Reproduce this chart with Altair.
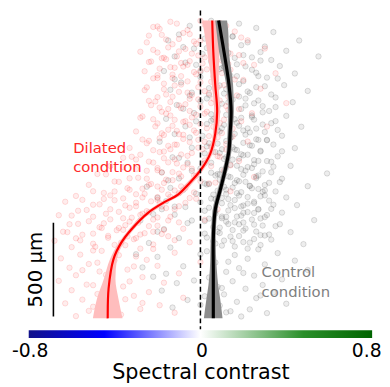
import altair as alt
import pandas as pd

# ---------------- data ----------------
# scatter points: (spectral contrast, depth in µm)
red_points = [
    (-0.14,1640),(0.02,1625),(-0.22,1612),(0.09,1604),(-0.06,1596),(0.16,1588),(-0.18,1570),(0.05,1562),
    (-0.1,1548),(0.22,1541),(-0.25,1530),(-0.02,1522),(0.12,1515),(-0.15,1503),(0.3,1497),(0.07,1488),
    (-0.2,1476),(-0.04,1470),(0.18,1462),(-0.11,1455),
    (-0.16,1440),(0.1,1433),(-0.24,1425),(0.01,1418),(0.25,1410),(-0.08,1401),(-0.19,1390),(0.14,1384),
    (-0.03,1372),(0.35,1365),(-0.13,1358),(0.06,1347),(-0.22,1338),(0.2,1330),(-0.06,1322),(-0.17,1310),
    (0.11,1302),(-0.01,1291),(0.28,1283),(-0.26,1275),(-0.1,1266),(0.04,1258),(0.17,1247),(-0.2,1238),
    (-0.05,1229),(0.09,1220),(-0.14,1212),(0.4,1206),
    (-0.23,1195),(0.0,1188),(-0.09,1179),(0.13,1171),(-0.18,1160),(0.24,1152),(-0.02,1144),(-0.27,1135),
    (0.07,1126),(-0.12,1117),(0.19,1109),(-0.2,1098),(-0.05,1090),(0.31,1081),(0.03,1072),(-0.15,1064),
    (-0.3,1055),(0.1,1046),(-0.08,1037),(0.15,1028),(-0.19,1019),(-0.01,1010),(0.22,1001),(-0.25,992),
    (-0.11,984),(0.05,975),(-0.33,967),(0.12,958),
    (-0.17,948),(-0.04,940),(-0.28,931),(0.08,923),(-0.36,914),(-0.12,906),(0.18,897),(-0.22,889),
    (0.01,880),(-0.42,871),(-0.08,863),(-0.3,854),(0.11,846),(-0.18,837),(-0.48,828),(-0.03,820),
    (0.25,812),(-0.25,803),(-0.13,795),(-0.38,786),(0.04,778),(-0.52,770),(-0.2,761),(-0.07,753),
    (-0.33,744),(0.14,736),(-0.45,727),(-0.15,719),(-0.58,711),(-0.27,703),
    (-0.02,696),(-0.4,688),(-0.63,680),(-0.19,672),(-0.5,664),(-0.1,656),(-0.33,648),(0.08,640),
    (-0.57,632),(-0.24,624),(-0.44,616),(-0.66,608),(-0.14,600),(-0.36,592),(0.02,584),(-0.52,576),
    (-0.29,568),(-0.61,560),(-0.2,552),(-0.47,544),(-0.08,536),(-0.39,528),(-0.64,520),(-0.26,512),
    (-0.55,504),(-0.15,496),(-0.43,488),(-0.31,480),(-0.68,472),(-0.05,464),(-0.5,456),
    (-0.35,448),(-0.6,438),(-0.22,428),(-0.46,418),(-0.12,408),(-0.56,398),(-0.3,388),(-0.65,378),
    (-0.4,368),(0.0,358),(-0.52,348),(-0.2,338),(-0.61,328),(-0.34,318),(-0.47,308),(-0.1,298),
    (-0.58,288),(-0.27,278),(-0.42,268),(-0.66,258),(-0.17,248),(-0.53,238),(-0.36,228),(0.05,218),
    (-0.6,208),(-0.24,198),(-0.48,188),(-0.31,178),(-0.08,168),(-0.55,158),(-0.4,148),(-0.63,138),
    (-0.19,128),(-0.45,118),(-0.28,108),(-0.52,98),(-0.12,88),(-0.37,78),(-0.58,70),
    (-0.09,1420),(0.0,1380),(-0.13,1340),(0.08,1290),(-0.04,1250),(0.12,1190),(-0.16,1150),(-0.07,1110),
    (0.06,1080),(-0.1,1040),(0.02,1000),(-0.14,960),(0.09,920),(-0.06,880),(-0.2,860),(-0.1,830),
    (0.0,790),(-0.23,775),(-0.12,740),(-0.3,720),(-0.05,700),(-0.2,690),(-0.35,660),(-0.12,640),
    (-0.28,610),(-0.22,585),(-0.1,570),(-0.35,555),(-0.17,530),(-0.28,505),
    (-0.2,1615),(-0.08,1580),(0.04,1590),(-0.16,1545),(-0.03,1535),(0.1,1525),(-0.22,1490),(-0.1,1482),
    (0.02,1450),(-0.18,1445),(-0.05,1430),(0.13,1415),(-0.12,1395),(-0.02,1360),(-0.2,1355),(0.05,1320),
    (-0.09,1305),(-0.17,1280),(0.02,1270),(-0.13,1240),(0.06,1230),(-0.21,1215),(-0.07,1200),(-0.15,1175),
    (0.03,1160),(-0.04,1130),(-0.22,1120),(0.09,1100),(-0.13,1085),(-0.03,1060),(-0.18,1045),(0.04,1030),
    (-0.08,1015),(-0.24,1005),(-0.12,985),(0.01,960),(-0.19,945),(-0.06,925),(-0.3,905),(-0.15,890),
    (0.05,870),(-0.25,845),(-0.09,815),(-0.33,805),(-0.17,780),(-0.27,750),(-0.4,735),(-0.1,725),
    (-0.2,705),(-0.45,695),(-0.3,675),(-0.18,655),(-0.42,640),(-0.25,630),(-0.5,600),(-0.32,595),
    (-0.15,580),(-0.45,565),(-0.38,540),(-0.22,520),(-0.5,510),(-0.34,495),(-0.58,485),(-0.12,475),
    (-0.4,450),(-0.28,430),(-0.5,420),(-0.38,395),(-0.25,370),(-0.48,355),(-0.31,335),(-0.55,315),
    (-0.44,290),(-0.33,255),(-0.5,235),(-0.44,200),(-0.35,160),(-0.5,120),(-0.27,140),(-0.44,90),
    (0.0,1645),(-0.11,1630),(0.12,1618),(-0.19,1602),(0.06,1592),(-0.05,1574),(-0.24,1566),(0.19,1556),
    (0.0,1540),(-0.13,1520),(0.08,1508),(-0.07,1495),(-0.28,1480),(0.14,1470),(-0.01,1460),(-0.17,1448),
    (0.05,1438),(-0.23,1428),(0.2,1420),(-0.06,1410),(-0.14,1398),(0.03,1386),(-0.26,1376),(0.1,1366),
    (-0.09,1350),(-0.2,1340),(0.16,1332),(0.0,1318),(-0.12,1300),(-0.25,1290),(0.07,1278),(-0.06,1262),
    (-0.16,1252),(0.13,1240),(-0.01,1226),(-0.24,1218),(0.05,1206),(-0.1,1194),(-0.19,1182),(0.18,1174),
    (-0.05,1164),(0.02,1150),(-0.14,1140),(-0.28,1128),(0.11,1118),(-0.08,1106),(0.0,1094),(-0.21,1082),
    (0.15,1070),(-0.11,1058),(-0.02,1048),(-0.17,1036),(0.08,1024),(-0.27,1012),(-0.05,998),(0.12,988),
    (-0.15,978),(-0.01,968),(-0.22,955),(0.06,944),(-0.09,932),(-0.32,920),(-0.17,912),(0.02,900),
    (-0.24,894),(-0.11,884),(0.14,874),(-0.36,864),(-0.04,856),(-0.2,848),(-0.13,838),(-0.44,826),
    (-0.02,818),(-0.29,808),(-0.16,798),(-0.4,788),(0.07,782),(-0.24,770),(-0.09,762),(-0.34,752),
    (-0.18,744),(-0.5,736),(-0.03,730),(-0.26,722),(-0.42,714),(-0.14,706),(-0.36,698),(-0.55,690),
    (-0.23,682),(-0.07,674),(-0.47,666),(-0.3,656),(-0.16,646),(-0.53,636),(-0.38,626),(-0.27,616),
    (-0.6,606),(-0.2,596),(-0.42,586),(-0.33,574),(-0.57,562),(-0.24,550),(-0.46,540),(-0.36,530),
    (-0.62,518),(-0.18,508),(-0.43,498),(-0.3,486),(-0.56,474),(-0.37,462),(-0.22,452),(-0.49,440),
]

gray_points = [
    (0.05,1645),(0.18,1630),(-0.05,1618),(0.26,1607),(0.1,1596),(0.34,1585),(-0.1,1572),(0.15,1563),
    (0.02,1550),(0.46,1540),(0.22,1530),(0.08,1519),(0.3,1508),(-0.03,1497),(0.4,1485),(0.13,1474),
    (0.2,1462),(0.55,1455),
    (0.06,1442),(0.28,1433),(-0.07,1422),(0.17,1413),(0.37,1404),(0.1,1393),(0.24,1384),(0.0,1373),
    (0.44,1364),(0.14,1352),(0.31,1342),(-0.12,1333),(0.2,1323),(0.07,1312),(0.39,1302),(0.26,1291),
    (0.12,1281),(0.5,1271),(-0.04,1262),(0.33,1252),(0.18,1241),(0.03,1231),(0.27,1220),(0.43,1211),
    (0.1,1203),
    (0.21,1194),(0.35,1185),(-0.08,1176),(0.14,1166),(0.29,1157),(0.05,1147),(0.4,1138),(0.19,1128),
    (0.25,1118),(-0.02,1109),(0.33,1099),(0.11,1090),(0.47,1080),(0.22,1071),(0.08,1061),(0.3,1052),
    (0.16,1042),(0.38,1032),(-0.05,1023),(0.26,1013),(0.12,1004),(0.2,994),(0.34,985),(0.03,975),
    (0.44,966),(0.17,956),
    (0.28,948),(0.09,940),(0.22,931),(0.36,922),(-0.1,914),(0.15,905),(0.31,897),(0.05,888),
    (0.25,880),(0.42,871),(0.12,862),(0.19,854),(-0.04,845),(0.33,837),(0.59,831),(0.08,828),
    (0.27,820),(0.14,811),(0.38,803),(-0.15,794),(0.21,786),(0.02,777),(0.3,769),(0.5,763),
    (0.11,760),(0.24,752),(-0.08,743),(0.35,735),(0.17,726),(0.06,718),(0.28,709),(-0.2,701),
    (0.13,694),(0.32,686),(0.0,678),(0.22,670),(0.45,662),(-0.12,654),(0.16,646),(0.27,638),
    (0.07,630),(0.38,622),(-0.22,614),(0.19,606),(0.3,598),(0.04,590),(0.53,582),(0.12,574),
    (-0.06,566),(0.25,558),(0.35,550),(0.09,542),(-0.17,534),(0.2,526),(0.42,518),(0.02,510),
    (0.28,502),(0.14,494),(-0.1,486),(0.33,478),(0.06,470),(0.23,462),(0.48,454),
    (0.1,446),(-0.14,436),(0.27,426),(0.03,416),(0.36,406),(0.16,396),(-0.2,386),(0.22,376),
    (0.44,366),(0.07,356),(0.3,346),(-0.08,336),(0.18,326),(0.5,316),(0.12,306),(-0.16,296),
    (0.25,286),(0.04,276),(0.38,266),(0.15,256),(-0.11,246),(0.29,236),(0.08,226),(0.21,216),
    (-0.18,206),(0.34,196),(0.11,186),(0.02,176),(0.26,166),(-0.06,156),(0.17,146),(0.4,136),
    (0.09,126),(-0.13,116),(0.23,106),(0.14,96),(0.31,86),(0.05,76),(0.19,68),
    (0.17,1350),(0.09,1300),(0.23,1260),(0.14,1180),(0.06,1120),(0.2,1060),(0.27,1010),(0.1,960),
    (0.18,910),(0.24,860),(0.07,820),(0.16,780),(0.3,740),(0.1,700),(0.2,660),(0.25,620),
    (0.12,600),(0.18,560),(0.08,520),(0.3,500),(0.15,470),(0.22,430),(0.0,400),(0.13,360),
    (0.2,300),(-0.03,260),(0.1,220),(0.28,180),(0.0,130),(0.12,90),
    (-0.25,760),(-0.18,640),(-0.28,580),(-0.2,520),(-0.24,460),(-0.3,400),(-0.27,330),(-0.22,280),
    (0.03,1095),(0.18,1085),(0.26,1070),(0.09,1055),(0.21,1038),(0.14,1022),(0.31,1008),(0.04,992),
    (0.23,981),(0.15,970),(0.28,952),(0.07,945),(0.19,933),(0.12,918),(0.25,902),(0.33,893),
    (0.02,885),(0.17,872),(0.22,865),(0.1,851),(0.29,842),(0.05,835),(0.2,824),(0.13,815),
    (0.26,806),(0.09,797),(0.18,789),(0.32,781),(0.03,772),(0.23,765),(0.15,756),(0.27,748),
    (0.08,739),(0.19,731),(0.12,722),(0.3,714),(0.22,705),(0.05,697),(0.16,689),(0.25,680),
    (0.1,672),(0.34,664),(0.19,655),(0.04,648),(0.27,641),(0.13,633),(0.22,625),(0.07,617),
    (0.31,609),(0.17,601),(0.1,592),(0.24,585),(0.02,577),(0.2,569),(0.13,561),(0.29,553),
    (0.06,545),(0.21,537),(0.15,529),(0.26,521),(0.09,513),(0.32,505),(0.18,497),(0.03,489),
    (0.25,481),(0.11,473),(0.2,465),(0.07,457),(0.28,449),(0.16,441),(0.04,1250),(0.21,1230),
    (0.13,1210),(0.29,1190),(0.08,1160),(0.24,1140),(0.16,1120),(0.35,1110),(0.11,1400),(0.24,1450),
    (0.03,1500),(0.15,1560),(0.27,1350),
    (-0.15,1540),(0.07,1532),(0.19,1515),(-0.08,1505),(0.12,1490),(0.28,1478),(0.01,1468),(-0.12,1455),
    (0.16,1447),(0.33,1436),(0.05,1427),(-0.02,1410),(0.21,1402),(0.09,1388),(-0.17,1377),(0.26,1368),
    (0.13,1356),(0.0,1345),(0.36,1337),(0.07,1326),(-0.09,1316),(0.18,1307),(0.3,1296),(0.04,1286),
    (-0.14,1277),(0.22,1268),(0.11,1257),(-0.05,1246),(0.35,1236),(0.15,1225),(0.0,1215),(0.25,1205),
    (-0.11,1196),(0.08,1186),(0.19,1175),(0.32,1164),(-0.03,1153),(0.12,1143),(0.24,1132),(-0.16,1122),
    (0.05,1112),(0.17,1101),(0.29,1092),(-0.07,1082),(0.1,1072),(0.36,1063),(0.23,1050),(-0.12,1041),
    (0.01,1031),(0.14,1020),(0.31,1010),(-0.19,1000),(0.08,990),(0.24,979),(-0.04,968),(0.16,959),
    (0.38,949),(0.02,938),(0.2,928),(-0.13,917),(0.11,908),(0.27,898),(-0.06,888),(0.14,877),
    (0.34,867),(0.0,857),(0.21,846),(-0.18,836),(0.09,826),(0.26,815),(-0.1,804),(0.17,795),
    (0.37,785),(0.04,774),(0.23,764),(-0.14,754),(0.12,744),(0.29,733),(-0.02,723),(0.18,713),
    (0.4,703),(0.07,693),(-0.16,683),(0.25,672),(0.14,662),(-0.07,652),(0.33,642),(0.02,632),
    (0.2,621),(-0.12,611),(0.1,601),(0.28,591),(-0.04,580),(0.16,570),(0.37,560),
]

# smoothed fits (depth in µm, contrast)
red_fit_depth = [58, 68, 216, 374, 463, 532, 621, 679, 716, 768, 847, 937, 1042, 1163, 1305, 1479, 1647]
red_fit_x = [-0.432, -0.432, -0.428, -0.405, -0.368, -0.322, -0.244, -0.166, -0.106, -0.060,
             0.000, 0.046, 0.069, 0.078, 0.069, 0.060, 0.055]

black_fit_depth = [58, 305, 479, 637, 742, 847, 953, 1042, 1163, 1305, 1479, 1600, 1647]
black_fit_x = [0.060, 0.060, 0.060, 0.069, 0.092, 0.115, 0.133, 0.138, 0.143, 0.133, 0.110, 0.092, 0.085]

# confidence bands
red_band_depth = [58, 163, 268, 374, 463, 532, 621, 679, 716, 768, 847, 937, 1042, 1163, 1305, 1479, 1647]
red_band_lo = [-0.501, -0.482, -0.450, -0.421, -0.380, -0.334, -0.258, -0.183, -0.122, -0.075,
               -0.012, 0.035, 0.058, 0.064, 0.053, 0.032, 0.009]
red_band_hi = [-0.363, -0.382, -0.396, -0.389, -0.356, -0.310, -0.230, -0.149, -0.090, -0.045,
               0.012, 0.057, 0.080, 0.092, 0.085, 0.088, 0.101]

gray_band_depth = [58, 163, 232, 321, 479, 637, 742, 847, 953, 1042, 1163, 1305, 1479, 1600, 1647]
gray_band_lo = [0.016, 0.028, 0.037, 0.044, 0.048, 0.057, 0.080, 0.103, 0.122, 0.126, 0.129, 0.120,
                0.087, 0.074, 0.069]
gray_band_hi = [0.103, 0.092, 0.083, 0.076, 0.071, 0.080, 0.103, 0.126, 0.145, 0.149, 0.156, 0.152,
                0.133, 0.129, 0.124]

# annotations
labels_text = ["Dilated\ncondition", "Control\ncondition"]
labels_x = [-0.593, 0.285]
labels_depth = [942, 279]
labels_color = ["#ff2a2a", "#7f7f7f"]

scalebar_x = [-0.685]
scalebar_depth = [68, 568]          # 500 µm
scalebar_label = ["500 µm"]
scalebar_label_x = [-0.740]
scalebar_label_depth = [318]

tick_values = [-0.8, 0, 0.8]
cbar_colors = ["#12128a", "#0000ff", "#ffffff", "#2a8f2a", "#006400"]
cbar_offsets = [0.0, 0.22, 0.5, 0.8, 1.0]
x_domain = [-0.8, 0.8]
depth_domain = [0, 1700]

# ---------------- chart ----------------
W, H = 348, 323
FONT = "DejaVu Sans"

xs = alt.Scale(domain=x_domain, nice=False, zero=False)
ys = alt.Scale(domain=depth_domain, nice=False, zero=False)
x_axis = alt.Axis(
    values=tick_values, domain=False, ticks=False, tickSize=0, grid=False,
    labelFontSize=19, labelFont=FONT, labelColor="black", labelPadding=28,
    labelBaseline="alphabetic", labelFlush=False,
    labelOffset={"condition": {"test": "datum.value > 0.5", "value": -6}, "value": 1},
    labelExpr="datum.value == 0 ? '0' : (datum.value < 0 ? '-' : '') + format(abs(datum.value), '.1f')",
    title="Spectral contrast", titleFontSize=21, titleFont=FONT, titleFontWeight="normal",
    titleColor="black", titleBaseline="alphabetic", titleY=50,
)

def X(field):
    return alt.X(field, type="quantitative", scale=xs, axis=x_axis)

def Y(field):
    return alt.Y(field, type="quantitative", scale=ys, axis=None)

red_df = pd.DataFrame(red_points, columns=["x", "depth"])
gray_df = pd.DataFrame(gray_points, columns=["x", "depth"])

gray_pts = alt.Chart(gray_df).mark_circle(
    size=30, color="#3a3a3a", fillOpacity=0.09, stroke="#3a3a3a", strokeOpacity=0.17, strokeWidth=1
).encode(x=X("x"), y=Y("depth"))

red_pts = alt.Chart(red_df).mark_circle(
    size=30, color="#ff0000", fillOpacity=0.07, stroke="#ff0000", strokeOpacity=0.13, strokeWidth=1
).encode(x=X("x"), y=Y("depth"))

red_band_df = pd.DataFrame({"depth": red_band_depth, "lo": red_band_lo, "hi": red_band_hi})
gray_band_df = pd.DataFrame({"depth": gray_band_depth, "lo": gray_band_lo, "hi": gray_band_hi})

red_band = alt.Chart(red_band_df).mark_area(
    orient="horizontal", interpolate="monotone", color="#ffbdbd"
).encode(y=Y("depth"), x=X("lo"), x2=alt.X2("hi"))

gray_band = alt.Chart(gray_band_df).mark_area(
    orient="horizontal", interpolate="monotone", color="#8c8c8c"
).encode(y=Y("depth"), x=X("lo"), x2=alt.X2("hi"))

red_line = alt.Chart(pd.DataFrame({"depth": red_fit_depth, "x": red_fit_x})).mark_line(
    color="#ff0000", strokeWidth=2.2, interpolate="catmull-rom"
).encode(x=X("x"), y=Y("depth"), order="depth:Q")

black_line = alt.Chart(pd.DataFrame({"depth": black_fit_depth, "x": black_fit_x})).mark_line(
    color="#000000", strokeWidth=3.2, interpolate="catmull-rom"
).encode(x=X("x"), y=Y("depth"), order="depth:Q")

zero_line = alt.Chart(pd.DataFrame({"x": [0.0]})).mark_rule(
    color="black", strokeWidth=1.5, strokeDash=[5, 3]
).encode(x=X("x"))

gradient = alt.LinearGradient(
    gradient="linear", x1=0, x2=1, y1=0, y2=0,
    stops=[alt.GradientStop(offset=o, color=c) for o, c in zip(cbar_offsets, cbar_colors)],
)
cbar = alt.Chart(pd.DataFrame({"x0": [x_domain[0]], "x1": [x_domain[1]]})).mark_rect(
    color=gradient
).encode(x=X("x0"), x2="x1", y=alt.value(H + 1), y2=alt.value(H + 9))

labels_df = pd.DataFrame({"t": labels_text, "x": labels_x, "depth": labels_depth, "c": labels_color})
labels = alt.Chart(labels_df).mark_text(
    align="left", baseline="alphabetic", font=FONT, fontSize=15, lineHeight=20, lineBreak="\n"
).encode(x=X("x"), y=Y("depth"), text="t:N", color=alt.Color("c:N", scale=None))

sb_df = pd.DataFrame({"x": scalebar_x, "d0": [scalebar_depth[0]], "d1": [scalebar_depth[1]]})
scalebar = alt.Chart(sb_df).mark_rule(color="black", strokeWidth=1.6).encode(
    x=X("x"), y=Y("d0"), y2="d1"
)
sb_lab = alt.Chart(pd.DataFrame({"t": scalebar_label, "x": scalebar_label_x, "depth": scalebar_label_depth})).mark_text(
    angle=270, align="center", baseline="alphabetic", font=FONT, fontSize=20, color="black"
).encode(x=X("x"), y=Y("depth"), text="t:N")

chart = alt.layer(
    gray_pts, red_pts, red_band, gray_band, red_line, black_line, zero_line, cbar, labels, scalebar, sb_lab
).properties(
    width=W, height=H,
    autosize=alt.AutoSizeParams(type="none"),
    padding={"left": 21, "top": 0, "right": 10, "bottom": 56},
).configure_view(strokeWidth=0)

chart.save("out.html", embed_options={"renderer": "svg", "actions": False})
